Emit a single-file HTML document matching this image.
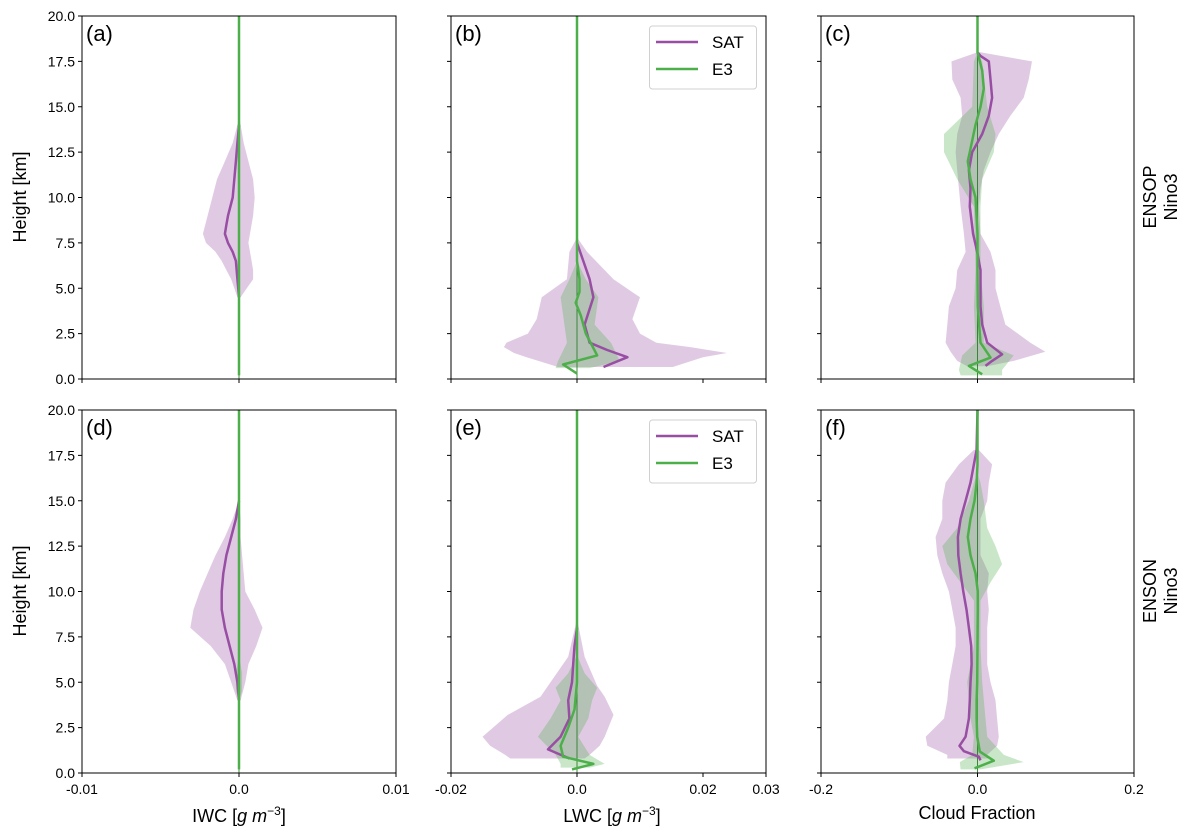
<!DOCTYPE html>
<html><head><meta charset="utf-8"><style>
body{margin:0;background:#fff}
svg{display:block;font-family:"Liberation Sans","DejaVu Sans",sans-serif}
</style></head><body>
<svg id="fig" width="1188" height="837" viewBox="0 0 1188 837" xmlns="http://www.w3.org/2000/svg"></svg>
<script>
// ---- data ----
// panel a (IWC, ENSOP)
const aSatBandH=[4.5,5,5.5,6,6.5,7,7.5,8,9,10,11,12,13,14,14.5];
const aSatLo=[-0.0001,-0.0003,-0.0005,-0.0008,-0.0011,-0.0015,-0.0021,-0.0023,-0.0020,-0.0017,-0.0014,-0.0009,-0.0004,-0.0001,0];
const aSatHi=[0.0001,0.0005,0.0009,0.0009,0.0008,0.0007,0.0006,0.0007,0.0009,0.0010,0.0009,0.0006,0.0003,0.0001,0];
const aSatH=[4.5,5.5,6.5,7,7.5,8,8.5,9,10,11,12,13,14];
const aSatV=[0,-0.0001,-0.0002,-0.0004,-0.0007,-0.0009,-0.0008,-0.0007,-0.0004,-0.0003,-0.0002,-0.0001,0];
const aE3H=[0.2,20];
const aE3V=[0,0];
// panel d (IWC, ENSON)
const dSatBandH=[4,5,6,7,8,9,10,11,12,13,14,15];
const dSatLo=[-0.0001,-0.0005,-0.0009,-0.0018,-0.0031,-0.0029,-0.0025,-0.0020,-0.0015,-0.0009,-0.0004,0];
const dSatHi=[0.0001,0.0004,0.0006,0.0011,0.0015,0.0010,0.0004,0.0003,0.0002,0.0001,0.0001,0];
const dSatH=[4,5,6,7,8,9,10,11,12,13,14,15];
const dSatV=[0,-0.0001,-0.0003,-0.0006,-0.0009,-0.0011,-0.0011,-0.0010,-0.0008,-0.0005,-0.0002,0];
const dE3BandH=[4,4.5,5.5,6.5];
const dE3Lo=[0,-0.0002,-0.0002,0];
const dE3Hi=[0,0.0002,0.0002,0];
const dE3H=[0.2,20];
const dE3V=[0,0];
// panel b (LWC, ENSOP)
const bSatBandH=[0.66,1.2,1.43,1.76,2,2.5,3.3,4.5,5.5,7,7.8];
const bSatLo=[-0.003,-0.008,-0.01,-0.0116,-0.0112,-0.0078,-0.0064,-0.0056,-0.0016,-0.0012,0];
const bSatHi=[0.0152,0.02,0.0238,0.018,0.0126,0.01,0.0088,0.01,0.0058,0.0016,0];
const bSatH=[0.66,1.2,1.6,2,3,4.5,5.5,6.5,7.5];
const bSatV=[0.0042,0.008,0.0048,0.002,0.0012,0.0026,0.002,0.001,0];
const bE3BandH=[0.6,1,2,3,4.5,5.5,6.5];
const bE3Lo=[-0.0034,-0.003,-0.0016,-0.002,-0.0026,-0.0012,0];
const bE3Hi=[0.002,0.0068,0.0054,0.0028,0.0034,0.0014,0];
const bE3H=[0.3,0.8,1.3,2.5,3.5,4.2,4.8,5.5,6.5,20];
const bE3V=[0,-0.0022,0.0032,0.0014,0.0006,-0.0002,0.0004,0.0004,0,0];
// panel e (LWC, ENSON)
const eSatBandH=[0.8,1,1.5,2,3.2,4.2,4.8,6.4,8.5];
const eSatLo=[-0.0106,-0.0114,-0.0138,-0.015,-0.011,-0.0058,-0.0046,-0.0014,0];
const eSatHi=[0.0012,0.002,0.0036,0.0044,0.0058,0.0044,0.0032,0.0012,0];
const eSatH=[0.8,1.3,2,3,4,5,6,7,8];
const eSatV=[-0.0012,-0.0046,-0.0026,-0.0012,-0.0014,-0.0008,-0.0006,-0.0004,0];
const eE3BandH=[0.3,0.5,1,2,3,4,4.7,5.5,6.5];
const eE3Lo=[-0.0026,-0.0026,-0.0034,-0.0062,-0.0042,-0.0026,-0.0034,-0.0014,0];
const eE3Hi=[0.002,0.0044,0.002,0.0002,0.0018,0.0024,0.0032,0.0012,0];
const eE3H=[0.2,0.5,0.9,1.5,2.5,3.5,5,20];
const eE3V=[-0.0008,0.0026,-0.0022,-0.0026,-0.0014,-0.0004,0,0];
// panel c (Cloud fraction, ENSOP)
const cSatBandH=[0.7,1,1.5,2,3,4,5,6,7,8,9.5,10.5,11.5,12.5,13.5,14.5,15.5,16.5,17.5,18];
const cSatLo=[-0.0132,-0.026,-0.0344,-0.0408,-0.0386,-0.0366,-0.028,-0.026,-0.0152,-0.0174,-0.0216,-0.0238,-0.026,-0.028,-0.026,-0.0196,-0.0216,-0.0322,-0.0332,0];
const cSatHi=[0.0124,0.0462,0.0866,0.0676,0.0356,0.0292,0.023,0.023,0.0166,0.0038,0.0016,0.0038,0.008,0.0166,0.0272,0.042,0.059,0.0654,0.0696,0.0038];
const cSatH=[0.72,1.0,1.36,2,3,4,5,6,7,8,9.5,10.5,11.5,12.5,13.5,14.5,15.5,16.5,17.5,17.8,18];
const cSatV=[0.0102,0.0186,0.0314,0.0124,0.006,0.0038,0.0038,0.0038,-0.0004,-0.0056,-0.0098,-0.009,-0.011,-0.0068,0.006,0.0144,0.0186,0.0166,0.0144,0.0038,0];
const cE3BandH=[0.2,0.5,1.3,2,4,6,9.5,11,12.5,13.5,15,17.5,18];
const cE3Lo=[-0.0216,-0.0238,-0.0196,-0.0026,-0.0046,-0.0026,-0.0046,-0.026,-0.0428,-0.0428,-0.0068,-0.0046,0];
const cE3Hi=[0.0314,0.0314,0.0462,0.008,0.008,0.0038,0.0038,0.006,0.0208,0.023,0.0124,0.006,0];
const cE3H=[0.26,0.72,1.18,2,4,6,8,10,11,12,12.5,14,15,16,17,18,20];
const cE3V=[0.006,-0.011,0.0166,0.0038,0.0004,0,0,-0.0026,-0.009,-0.0124,-0.0098,-0.0026,0.0038,0.008,0.006,0,0];
// panel f (Cloud fraction, ENSON)
const fSatBandH=[0.8,1,1.5,2,3,4,5,6,7,8,9,10,11,12,13,14,15,16,17,17.8];
const fSatLo=[-0.0386,-0.0386,-0.0642,-0.0662,-0.0428,-0.0386,-0.0366,-0.0322,-0.028,-0.028,-0.0322,-0.0366,-0.045,-0.0514,-0.0536,-0.045,-0.045,-0.0408,-0.0238,-0.0046];
const fSatHi=[0.0166,0.0124,0.025,0.0272,0.025,0.023,0.0166,0.0124,0.0124,0.0124,0.0144,0.0124,0.0144,0.0038,0.0038,0.0038,0.0124,0.0144,0.0186,0.0016];
const fSatH=[0.7,0.9,1.2,1.5,2,3,4,5,6,7,8,9,10,11,12,13,14,15,16,17.8,20];
const fSatV=[0.0038,0.0016,-0.0174,-0.023,-0.0152,-0.011,-0.0098,-0.009,-0.0076,-0.008,-0.011,-0.014,-0.0182,-0.0216,-0.0246,-0.025,-0.0216,-0.0152,-0.009,-0.0012,0];
const fE3BandH=[0.2,0.6,1,2,3,5,7,9.5,10.5,11.5,12.5,13.5,15,16,16.5];
const fE3Lo=[-0.0216,-0.0226,-0.0068,-0.0046,-0.009,-0.0132,-0.0046,-0.0046,-0.0216,-0.0386,-0.045,-0.026,-0.011,-0.0046,0];
const fE3Hi=[0.0038,0.059,0.0336,0.0124,0.0102,0.006,0.0038,0.0038,0.0166,0.0314,0.023,0.0124,0.008,0.0038,0];
const fE3H=[0.26,0.68,1.18,2,3,4,5,7,9,10,11,12,13,14,15,16,17,20];
const fE3V=[-0.0038,0.0208,0.003,-0.0004,-0.0012,-0.0012,-0.0004,0,0.0004,0.0004,-0.0026,-0.009,-0.0124,-0.009,-0.0038,-0.0012,0,0];
// ticks
const yTicks=[0,2.5,5,7.5,10,12.5,15,17.5,20];
const yTickLabels=["0.0","2.5","5.0","7.5","10.0","12.5","15.0","17.5","20.0"];
const col1Ticks=[-0.01,0,0.01], col1Labels=["-0.01","0.0","0.01"];
const col2Ticks=[-0.02,0,0.02,0.03], col2Labels=["-0.02","0.0","0.02","0.03"];
const col3Ticks=[-0.2,0,0.2], col3Labels=["-0.2","0.0","0.2"];

// ---- drawing ----
const NS="http://www.w3.org/2000/svg";
const svg=document.getElementById('fig');
function mk(tag,attrs,parent){const e=document.createElementNS(NS,tag);for(const k in attrs)e.setAttribute(k,attrs[k]);(parent||svg).appendChild(e);return e;}
const PURPLE="#984ea3", GREEN="#4daf4a";
const cols=[{x0:82,x1:396,d0:-0.01,d1:0.01,ticks:col1Ticks,labels:col1Labels},
            {x0:451,x1:766,d0:-0.02,d1:0.03,ticks:col2Ticks,labels:col2Labels},
            {x0:821,x1:1134,d0:-0.2,d1:0.2,ticks:col3Ticks,labels:col3Labels}];
const rows=[{y0:16,y1:379},{y0:410,y1:773}];
const panels=[
 {r:0,c:0,id:"a",sb:[aSatBandH,aSatLo,aSatHi],eb:null,sl:[aSatH,aSatV],el:[aE3H,aE3V]},
 {r:0,c:1,id:"b",sb:[bSatBandH,bSatLo,bSatHi],eb:[bE3BandH,bE3Lo,bE3Hi],sl:[bSatH,bSatV],el:[bE3H,bE3V],leg:true},
 {r:0,c:2,id:"c",sb:[cSatBandH,cSatLo,cSatHi],eb:[cE3BandH,cE3Lo,cE3Hi],sl:[cSatH,cSatV],el:[cE3H,cE3V]},
 {r:1,c:0,id:"d",sb:[dSatBandH,dSatLo,dSatHi],eb:[dE3BandH,dE3Lo,dE3Hi],sl:[dSatH,dSatV],el:[dE3H,dE3V]},
 {r:1,c:1,id:"e",sb:[eSatBandH,eSatLo,eSatHi],eb:[eE3BandH,eE3Lo,eE3Hi],sl:[eSatH,eSatV],el:[eE3H,eE3V],leg:true},
 {r:1,c:2,id:"f",sb:[fSatBandH,fSatLo,fSatHi],eb:[fE3BandH,fE3Lo,fE3Hi],sl:[fSatH,fSatV],el:[fE3H,fE3V]}
];
panels.forEach(p=>{
  const C=cols[p.c],R=rows[p.r];
  const xs=v=>C.x0+(v-C.d0)/(C.d1-C.d0)*(C.x1-C.x0);
  const ys=h=>R.y1-h/20*(R.y1-R.y0);
  const g=mk('g',{});
  
  
  const clipId='clip'+p.id;
  const cp=mk('clipPath',{id:clipId},g);
  mk('rect',{x:C.x0,y:R.y0,width:C.x1-C.x0,height:R.y1-R.y0},cp);
  const plot=mk('g',{'clip-path':'url(#'+clipId+')'},g);
  function band(b,col,name){
    const [H,lo,hi]=b;let d='';
    H.forEach((h,i)=>{d+=(i?'L':'M')+xs(lo[i]).toFixed(1)+','+ys(h).toFixed(1);});
    for(let i=H.length-1;i>=0;i--)d+='L'+xs(hi[i]).toFixed(1)+','+ys(H[i]).toFixed(1);
    const e=mk('path',{d:d+'Z',fill:col,'fill-opacity':0.3,stroke:'none'},plot);
    
    
  }
  function line(l,col,name){
    const [H,V]=l;let d='';
    H.forEach((h,i)=>{d+=(i?'L':'M')+xs(V[i]).toFixed(1)+','+ys(h).toFixed(1);});
    const e=mk('path',{d:d,fill:'none',stroke:col,'stroke-width':2.5,'stroke-linejoin':'round'},plot);
    
    
  }
  band(p.sb,PURPLE,'sat-spread-band');
  if(p.eb)band(p.eb,GREEN,'e3-spread-band');
  const zl=mk('line',{x1:xs(0),x2:xs(0),y1:R.y0,y2:R.y1,stroke:'#2f7a2d','stroke-width':0.9},plot);
  
  
  line(p.sl,PURPLE,'sat-mean-line');
  line(p.el,GREEN,'e3-mean-line');
  const fr=mk('rect',{x:C.x0,y:R.y0,width:C.x1-C.x0,height:R.y1-R.y0,fill:'none',stroke:'#000','stroke-width':1},g);
  
  
  yTicks.forEach((t,i)=>{
    mk('line',{x1:C.x0-4,x2:C.x0,y1:ys(t),y2:ys(t),stroke:'#000','stroke-width':1},g);
    if(p.c===0){const tx=mk('text',{x:C.x0-7,y:ys(t)+5,'text-anchor':'end','font-size':14},g);tx.textContent=yTickLabels[i];
      
      }
  });
  C.ticks.forEach((t,i)=>{
    mk('line',{x1:xs(t),x2:xs(t),y1:R.y1,y2:R.y1+4,stroke:'#000','stroke-width':1},g);
    if(p.r===1){const tx=mk('text',{x:xs(t),y:R.y1+21,'text-anchor':'middle','font-size':14},g);tx.textContent=C.labels[i];
      
      }
  });
  const pl=mk('text',{x:C.x0+4,y:R.y0+25,'font-size':22},g);pl.textContent='('+p.id+')';
  
  
  if(p.leg){
    const lg=mk('g',{},g);
    
    
    mk('rect',{x:649.5,y:R.y0+10,width:107,height:63,rx:3,fill:'#fff','fill-opacity':0.8,stroke:'#d0d0d0'},lg);
    mk('line',{x1:656,x2:698,y1:R.y0+26,y2:R.y0+26,stroke:PURPLE,'stroke-width':2.5},lg);
    mk('line',{x1:656,x2:698,y1:R.y0+53,y2:R.y0+53,stroke:GREEN,'stroke-width':2.5},lg);
    const t1=mk('text',{x:712,y:R.y0+32,'font-size':17},lg);t1.textContent='SAT';
    
    
    const t2=mk('text',{x:712,y:R.y0+59,'font-size':17},lg);t2.textContent='E3';
    
    
  }
});
function label(txt,x,y,rot,name){
  const t=mk('text',{x:x,y:y,'font-size':18,'text-anchor':'middle',transform:rot?`rotate(-90 ${x} ${y})`:''});
  t.textContent=txt;
  
  
  return t;
}
label('Height [km]',26,197,true,'y-axis-title-top');
label('Height [km]',26,591,true,'y-axis-title-bottom');
const x1=label('',239,822,false,'x-axis-title-iwc');x1.innerHTML='IWC [<tspan font-style="italic">g m</tspan><tspan font-size="12" dy="-7">−3</tspan><tspan dy="7">]</tspan>';
const x2=label('',612,822,false,'x-axis-title-lwc');x2.innerHTML='LWC [<tspan font-style="italic">g m</tspan><tspan font-size="12" dy="-7">−3</tspan><tspan dy="7">]</tspan>';
label('Cloud Fraction',977,819,false,'x-axis-title-cf');
label('ENSOP',1156,197,true,'row-title-ensop');
label('Nino3',1177,197,true,'row-title-nino3-top');
label('ENSON',1156,591,true,'row-title-enson');
label('Nino3',1177,591,true,'row-title-nino3-bottom');
</script>
</body></html>
